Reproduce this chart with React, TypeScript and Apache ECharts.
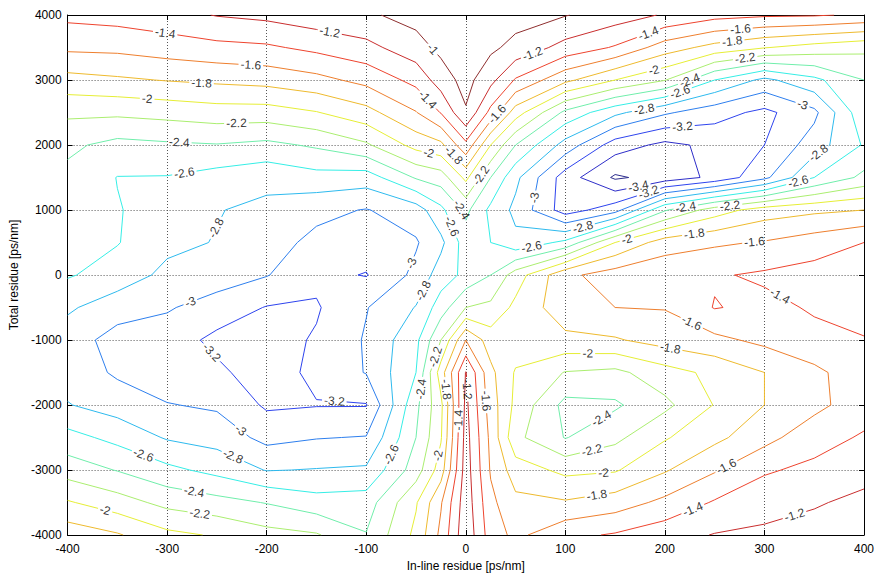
import React, { useEffect, useRef } from "react";
import * as echarts from "echarts";

// ---- data ----
const X_VALUES = [-400, -350, -300, -250, -200, -150, -100, -50, -25, 0, 25, 50, 100, 150, 200, 250, 300, 350, 400];
const Y_VALUES = [4000, 3500, 3000, 2500, 2000, 1500, 1000, 500, 0, -500, -1000, -1500, -2000, -2500, -3000, -3500, -4000];

const Z_Y4000 = [-1.35, -1.32, -1.27, -1.19, -1.15, -1.08, -1.03, -0.93, -0.88, -0.85, -0.88, -0.92, -0.99, -1.1, -1.22, -1.33, -1.37, -1.38, -1.43];
const Z_Y3500 = [-1.56, -1.55, -1.5, -1.455, -1.43, -1.35, -1.26, -1.08, -0.95, -0.88, -0.96, -1.06, -1.27, -1.42, -1.7, -1.87, -1.99, -2.08, -2.15];
const Z_Y3000 = [-1.87, -1.83, -1.79, -1.76, -1.73, -1.66, -1.54, -1.34, -1.1, -0.93, -1.14, -1.42, -1.75, -2.0, -2.19, -2.6, -2.85, -2.65, -2.4];
const Z_Y2500 = [-2.16, -2.16, -2.13, -2.09, -2.09, -2.01, -1.87, -1.61, -1.39, -1.02, -1.46, -1.9, -2.45, -2.75, -2.97, -3.12, -3.25, -3.05, -2.45];
const Z_Y2000 = [-2.36, -2.46, -2.43, -2.41, -2.45, -2.37, -2.23, -1.93, -1.85, -1.45, -2.0, -2.4, -2.88, -3.3, -3.45, -3.35, -3.2, -2.9, -2.58];
const Z_Y1500 = [-2.45, -2.605, -2.61, -2.68, -2.74, -2.67, -2.7, -2.38, -2.3, -1.95, -2.4, -2.75, -3.3, -3.63, -3.52, -3.35, -3.05, -2.6, -2.35];
const Z_Y1000 = [-2.5, -2.59, -2.675, -2.79, -2.85, -2.95, -3.01, -2.9, -2.65, -2.35, -2.65, -2.85, -3.3, -3.08, -2.42, -2.1, -1.9, -1.84, -1.8];
const Z_Y500 = [-2.54, -2.59, -2.75, -2.81, -2.92, -3.05, -3.1, -3.02, -2.85, -2.5, -2.6, -2.75, -2.55, -2.0, -1.7, -1.63, -1.585, -1.5, -1.4];
const Z_Y0 = [-2.58, -2.69, -2.85, -2.9, -2.99, -3.15, -3.21, -2.95, -2.7, -2.55, -2.4, -2.1, -1.65, -1.5, -1.45, -1.42, -1.37, -1.32, -1.3];
const Z_YM500 = [-2.77, -2.91, -2.98, -3.09, -3.21, -3.22, -3.01, -2.79, -2.5, -2.2, -2.15, -1.95, -1.68, -1.6, -1.59, -1.39, -1.45, -1.38, -1.33];
const Z_YM1000 = [-2.9, -3.08, -3.1, -3.25, -3.28, -3.18, -2.98, -2.65, -2.2, -1.6, -1.9, -1.88, -1.85, -1.82, -1.72, -1.65, -1.55, -1.45, -1.41];
const Z_YM1500 = [-2.88, -3.03, -3.12, -3.16, -3.3, -3.15, -2.99, -2.6, -1.9, -1.19, -1.75, -2.02, -2.21, -2.25, -2.08, -1.95, -1.8, -1.65, -1.47];
const Z_YM2000 = [-2.79, -2.89, -2.99, -3.03, -3.23, -3.21, -3.21, -2.45, -2.05, -1.15, -1.7, -2.05, -2.46, -2.43, -2.25, -1.99, -1.8, -1.66, -1.48];
const Z_YM2500 = [-2.53, -2.66, -2.82, -2.88, -3.06, -3.01, -2.99, -2.4, -2.02, -1.12, -1.65, -2.15, -2.41, -2.25, -2.02, -1.85, -1.67, -1.47, -1.38];
const Z_YM3000 = [-2.29, -2.41, -2.55, -2.66, -2.81, -2.79, -2.77, -2.3, -1.9, -1.1, -1.62, -1.9, -2.05, -2.02, -1.82, -1.62, -1.42, -1.36, -1.27];
const Z_YM3500 = [-1.98, -2.11, -2.26, -2.33, -2.41, -2.52, -2.5, -2.02, -1.62, -1.08, -1.55, -1.75, -1.78, -1.7, -1.55, -1.38, -1.3, -1.22, -1.15];
const Z_YM4000 = [-1.68, -1.78, -1.95, -2.02, -2.13, -2.18, -2.39, -1.95, -1.55, -1.05, -1.5, -1.65, -1.45, -1.38, -1.28, -1.19, -1.15, -1.12, -1.1];

const Z_ROWS = [
  Z_Y4000, Z_Y3500, Z_Y3000, Z_Y2500, Z_Y2000, Z_Y1500, Z_Y1000, Z_Y500, Z_Y0,
  Z_YM500, Z_YM1000, Z_YM1500, Z_YM2000, Z_YM2500, Z_YM3000, Z_YM3500, Z_YM4000,
];

const LEVELS = [-3.6, -3.4, -3.2, -3.0, -2.8, -2.6, -2.4, -2.2, -2.0, -1.8, -1.6, -1.4, -1.2, -1.0];

const X_MIN = -400, X_MAX = 400, X_STEP = 100;
const Y_MIN = -4000, Y_MAX = 4000, Y_STEP = 1000;

// ---- layout / style ----
const W = 877, H = 577;
const GRID = { left: 67, top: 15, width: 797, height: 521 };
const FONT = "'Liberation Sans', Arial, Helvetica, sans-serif";
const LABEL_SIZE = 12;
const CMIN = -3.6, CMAX = -1.0;

type Pt = [number, number];

function jet(v: number): string {
  const t = (v - CMIN) / (CMAX - CMIN);
  const f = (x: number) => Math.max(0, Math.min(1, x));
  const r = f(1.5 - Math.abs(4 * t - 3));
  const g = f(1.5 - Math.abs(4 * t - 2));
  const b = f(1.5 - Math.abs(4 * t - 1));
  const mix = (c: number) => Math.round(0.75 * c * 255 + 0.25 * 185);
  return `rgb(${mix(r)},${mix(g)},${mix(b)})`;
}

function fmt(l: number): string {
  return String(Math.round(l * 10) / 10);
}

function textWidth(s: string): number {
  let w = 0;
  for (const ch of s) w += ch === "-" ? 0.333 : ch === "." ? 0.278 : 0.556;
  return w * LABEL_SIZE;
}

// marching squares on the (possibly non-uniform) grid
function buildContours(level: number): Pt[][] {
  const R = Y_VALUES.length, C = X_VALUES.length;
  const pts = new Map<string, Pt>();
  const edgePoint = (key: string, r1: number, c1: number, r2: number, c2: number) => {
    if (pts.has(key)) return;
    const z1 = Z_ROWS[r1][c1], z2 = Z_ROWS[r2][c2];
    const t = (level - z1) / (z2 - z1);
    pts.set(key, [
      X_VALUES[c1] + t * (X_VALUES[c2] - X_VALUES[c1]),
      Y_VALUES[r1] + t * (Y_VALUES[r2] - Y_VALUES[r1]),
    ]);
  };
  const segs: [string, string][] = [];
  for (let r = 0; r < R - 1; r++) {
    for (let c = 0; c < C - 1; c++) {
      const a = Z_ROWS[r][c], b = Z_ROWS[r][c + 1], cc = Z_ROWS[r + 1][c + 1], d = Z_ROWS[r + 1][c];
      const A = a >= level, B = b >= level, CC = cc >= level, D = d >= level;
      let top: string | null = null, right: string | null = null, bottom: string | null = null, left: string | null = null;
      if (A !== B) { top = `h${r}_${c}`; edgePoint(top, r, c, r, c + 1); }
      if (B !== CC) { right = `v${r}_${c + 1}`; edgePoint(right, r, c + 1, r + 1, c + 1); }
      if (D !== CC) { bottom = `h${r + 1}_${c}`; edgePoint(bottom, r + 1, c, r + 1, c + 1); }
      if (A !== D) { left = `v${r}_${c}`; edgePoint(left, r, c, r + 1, c); }
      const list = [top, right, bottom, left].filter((k) => k !== null) as string[];
      if (list.length === 2) segs.push([list[0], list[1]]);
      else if (list.length === 4) {
        const center = (a + b + cc + d) / 4 >= level;
        if (A !== center) { segs.push([left!, top!]); segs.push([right!, bottom!]); }
        else { segs.push([top!, right!]); segs.push([bottom!, left!]); }
      }
    }
  }
  const adj = new Map<string, number[]>();
  segs.forEach((s, i) => {
    for (const k of s) {
      const arr = adj.get(k);
      if (arr) arr.push(i); else adj.set(k, [i]);
    }
  });
  const used = new Array(segs.length).fill(false);
  const lines: Pt[][] = [];
  for (let i = 0; i < segs.length; i++) {
    if (used[i]) continue;
    used[i] = true;
    const keys = [segs[i][0], segs[i][1]];
    let cur = keys[keys.length - 1];
    for (;;) {
      const cand = (adj.get(cur) || []).find((j) => !used[j]);
      if (cand === undefined) break;
      used[cand] = true;
      const nxt = segs[cand][0] === cur ? segs[cand][1] : segs[cand][0];
      keys.push(nxt);
      cur = nxt;
    }
    cur = keys[0];
    for (;;) {
      const cand = (adj.get(cur) || []).find((j) => !used[j]);
      if (cand === undefined) break;
      used[cand] = true;
      const nxt = segs[cand][0] === cur ? segs[cand][1] : segs[cand][0];
      keys.unshift(nxt);
      cur = nxt;
    }
    lines.push(keys.map((k) => pts.get(k)!));
  }
  return lines;
}

const SX = GRID.width / (X_MAX - X_MIN);
const SY = GRID.height / (Y_MAX - Y_MIN);

interface LabelItem { value: Pt; name: string; rot: number; }

function splitWithLabels(line: Pt[], text: string, shift: number): { pieces: Pt[][]; labels: LabelItem[] } {
  const cum: number[] = [0];
  for (let i = 1; i < line.length; i++) {
    const dx = (line[i][0] - line[i - 1][0]) * SX;
    const dy = (line[i][1] - line[i - 1][1]) * SY;
    cum.push(cum[i - 1] + Math.hypot(dx, dy));
  }
  const L = cum[cum.length - 1];
  if (L < 60) return { pieces: [line], labels: [] };
  const pointAt = (s: number): Pt => {
    s = Math.max(0, Math.min(L, s));
    let k = 0;
    while (k < cum.length - 2 && cum[k + 1] < s) k++;
    const seg = cum[k + 1] - cum[k];
    const t = seg > 0 ? (s - cum[k]) / seg : 0;
    return [line[k][0] + t * (line[k + 1][0] - line[k][0]), line[k][1] + t * (line[k + 1][1] - line[k][1])];
  };
  const dirAt = (s0: number, s1: number) => {
    const p1 = pointAt(s0), p2 = pointAt(s1);
    return Math.atan2((p2[1] - p1[1]) * SY, (p2[0] - p1[0]) * SX);
  };
  const slice = (a: number, b: number): Pt[] => {
    const out: Pt[] = [pointAt(a)];
    for (let i = 0; i < line.length; i++) if (cum[i] > a && cum[i] < b) out.push(line[i]);
    out.push(pointAt(b));
    return out;
  };
  const n = Math.max(1, Math.round(L / 300));
  const half = textWidth(text) / 2 + 2;
  const labels: LabelItem[] = [];
  const centers: number[] = [];
  for (let i = 0; i < n; i++) {
    const target = (L * (i + 0.5 + shift)) / n;
    const span = Math.min(L / (2 * n), 90) * 0.8;
    let best = target, bestScore = Infinity;
    for (let s = Math.max(half + 2, target - span); s <= Math.min(L - half - 2, target + span); s += 2) {
      const a1 = dirAt(s - half - 4, s);
      const a2 = dirAt(s, s + half + 4);
      let turn = Math.abs(a1 - a2);
      if (turn > Math.PI) turn = 2 * Math.PI - turn;
      const p = pointAt(s);
      const px = (p[0] - X_MIN) * SX, py = (Y_MAX - p[1]) * SY;
      const edge = Math.min(px, GRID.width - px, py, GRID.height - py);
      const edgePen = edge < 14 ? (14 - edge) * 0.2 : 0;
      const score = turn * 3 + edgePen + Math.abs(s - target) / 250;
      if (score < bestScore) { bestScore = score; best = s; }
    }
    const s = best;
    const p = pointAt(s);
    let ang = (dirAt(s - 8, s + 8) * 180) / Math.PI;
    if (ang > 90) ang -= 180;
    if (ang < -90) ang += 180;
    labels.push({ value: p, name: text, rot: ang });
    centers.push(s);
  }
  const pieces: Pt[][] = [];
  let start = 0;
  for (const s of centers) {
    const e = s - half;
    if (e - start > 0.5) pieces.push(slice(start, e));
    start = s + half;
  }
  if (L - start > 0.5) pieces.push(slice(start, L));
  return { pieces, labels };
}

function buildOption() {
  const series: any[] = [];
  const labelData: any[] = [];
  LEVELS.forEach((level, li) => {
    const text = fmt(level);
    const lines = buildContours(level);
    const shift = (((li * 0.618) % 1) - 0.5) * 0.5;
    const data: any[] = [];
    for (const ln of lines) {
      const { pieces, labels } = splitWithLabels(ln, text, shift);
      for (const p of pieces) data.push({ coords: p });
      for (const lb of labels) labelData.push({ value: lb.value, name: lb.name, label: { rotate: lb.rot } });
    }
    series.push({
      type: "lines",
      coordinateSystem: "cartesian2d",
      polyline: true,
      silent: true,
      z: 3,
      data,
      lineStyle: { color: jet(level), width: 1, opacity: 1 },
    });
  });
  series.push({
    type: "scatter",
    symbolSize: 0,
    silent: true,
    z: 5,
    data: labelData,
    label: {
      show: true,
      position: "inside",
      formatter: "{b}",
      color: "#000",
      fontSize: LABEL_SIZE,
      fontFamily: FONT,
      align: "center",
      verticalAlign: "middle",
    },
  });

  const axisLine = { show: true, onZero: false, lineStyle: { color: "#000", width: 1 } };
  const tick = { show: true, inside: true, length: 5, lineStyle: { color: "#000" } };
  const split = { show: true, lineStyle: { color: "#555", width: 1, type: [1, 2] } };
  const text = { color: "#000", fontSize: 12, fontFamily: FONT };

  return {
    animation: false,
    backgroundColor: "#fff",
    grid: { ...GRID, containLabel: false },
    xAxis: [
      {
        type: "value", min: X_MIN, max: X_MAX, interval: X_STEP, position: "bottom",
        axisLine, axisTick: tick, splitLine: split,
        axisLabel: { ...text, margin: 8, formatter: (v: number) => String(v) },
        name: "In-line residue [ps/nm]", nameLocation: "middle", nameGap: 25, nameTextStyle: text,
      },
      {
        type: "value", min: X_MIN, max: X_MAX, interval: X_STEP, position: "top",
        axisLine, axisTick: tick, splitLine: { show: false }, axisLabel: { show: false },
      },
    ],
    yAxis: [
      {
        type: "value", min: Y_MIN, max: Y_MAX, interval: Y_STEP, position: "left",
        axisLine, axisTick: tick, splitLine: split,
        axisLabel: { ...text, margin: 6, formatter: (v: number) => String(v) },
        name: "Total residue [ps/nm]", nameLocation: "middle", nameGap: 38, nameRotate: 90, nameTextStyle: text,
      },
      {
        type: "value", min: Y_MIN, max: Y_MAX, interval: Y_STEP, position: "right",
        axisLine, axisTick: tick, splitLine: { show: false }, axisLabel: { show: false },
      },
    ],
    series,
  };
}

export default function App() {
  const ref = useRef<HTMLDivElement>(null);
  useEffect(() => {
    const el = ref.current;
    if (!el) return;
    const chart = echarts.init(el, undefined, { renderer: "svg" });
    chart.setOption(buildOption() as any);
    return () => chart.dispose();
  }, []);
  return (
    <div
      ref={ref}
      style={{ position: "absolute", left: 0, top: 0, width: W, height: H, background: "#fff" }}
    />
  );
}
